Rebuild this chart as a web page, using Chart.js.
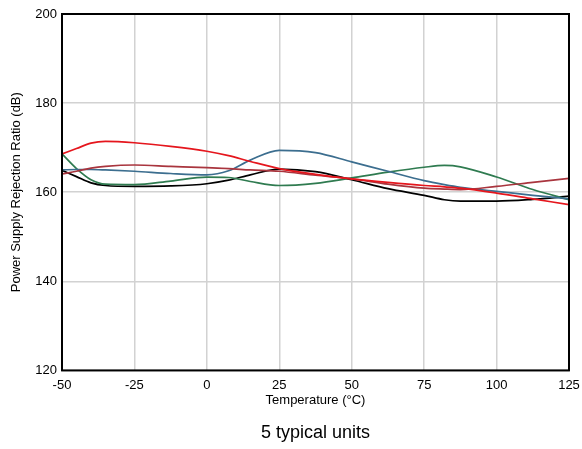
<!DOCTYPE html>
<html>
<head>
<meta charset="utf-8">
<script src="https://cdn.jsdelivr.net/npm/chart.js@4"></script>
<style>
  html, body { margin: 0; padding: 0; background: #fff; }
  #wrap { width: 582px; height: 449px; }
</style>
</head>
<body>
<div id="wrap"><canvas id="psrrChart" width="582" height="449"></canvas></div>
<script>
/* =========================
   Data
========================= */

const temps = [-50, -45, -40, -35, -25, -12.5, 0, 7.5, 15, 25, 37.5, 50, 62.5, 75, 82, 87.5, 100, 112.5, 125];

const unitRed      = [168.6, 169.8, 171.0, 171.4, 171.1, 170.3, 169.2, 168.2, 166.9, 165.3, 164.0, 163.0, 162.2, 161.5, 161.2, 160.9, 159.8, 158.5, 157.2];
const unitDarkRed  = [164.1, 164.7, 165.4, 165.8, 166.1, 165.8, 165.5, 165.3, 165.0, 164.7, 163.8, 163.0, 161.8, 160.9, 160.7, 160.6, 161.3, 162.2, 163.1];
const unitBlue     = [165.0, 165.1, 165.1, 165.0, 164.7, 164.2, 163.9, 164.8, 167.2, 169.4, 168.9, 166.8, 164.7, 162.6, 161.7, 161.1, 160.2, 159.3, 158.5];
const unitGreen    = [168.6, 165.3, 162.8, 161.8, 161.7, 162.5, 163.4, 163.3, 162.4, 161.5, 162.0, 163.2, 164.5, 165.6, 166.0, 165.7, 163.4, 160.6, 158.3];
const unitBlack    = [164.9, 163.5, 162.1, 161.5, 161.3, 161.4, 161.9, 162.7, 163.9, 165.2, 164.6, 162.8, 160.8, 159.3, 158.3, 158.0, 158.0, 158.4, 159.1];

const xTicks = [-50, -25, 0, 25, 50, 75, 100, 125];
const yTicks = [120, 140, 160, 180, 200];

/* =========================
   Helpers
========================= */

const FONT = "'Liberation Sans', Arial, sans-serif";

function toPoints(values) {
  return temps.map((t, i) => ({ x: t, y: values[i] }));
}

function series(label, values, color) {
  return {
    label: label,
    data: toPoints(values),
    borderColor: color,
    borderWidth: 1.7,
    pointRadius: 0,
    fill: false,
    cubicInterpolationMode: "monotone"
  };
}

// black frame round the plot area
const framePlugin = {
  id: "frame",
  afterDraw(chart) {
    const { ctx, chartArea: a } = chart;
    ctx.save();
    ctx.strokeStyle = "#000";
    ctx.lineWidth = 2;
    ctx.strokeRect(a.left, a.top, a.right - a.left, a.bottom - a.top);
    ctx.restore();
  }
};

/* =========================
   Chart
========================= */

new Chart(document.getElementById("psrrChart"), {
  type: "line",
  data: {
    datasets: [
      series("Unit 1", unitRed, "#e5161d"),
      series("Unit 2", unitDarkRed, "#a9353e"),
      series("Unit 3", unitBlue, "#3c6e8f"),
      series("Unit 4", unitGreen, "#2f7b50"),
      series("Unit 5", unitBlack, "#000000")
    ]
  },
  options: {
    responsive: false,
    animation: false,
    layout: { padding: { top: 14, right: 13, left: 0, bottom: 0 } },
    scales: {
      x: {
        type: "linear",
        min: -50,
        max: 125,
        afterBuildTicks: scale => { scale.ticks = xTicks.map(v => ({ value: v })); },
        afterFit: scale => {
          scale.height = 52;
          scale.paddingLeft = 0;
          scale.paddingRight = 0;
        },
        grid: { color: "#d2d2d2", lineWidth: 1.5, drawTicks: false },
        border: { display: false },
        ticks: { color: "#000", padding: 7, maxRotation: 0, font: { family: FONT, size: 13 } },
        title: {
          display: true,
          text: "Temperature (°C)",
          color: "#000",
          font: { family: FONT, size: 13 },
          padding: { top: 0, bottom: 14 }
        }
      },
      y: {
        min: 120,
        max: 200,
        afterBuildTicks: scale => { scale.ticks = yTicks.map(v => ({ value: v })); },
        afterFit: scale => { scale.width = 62; },
        grid: { color: "#d2d2d2", lineWidth: 1.5, drawTicks: false },
        border: { display: false },
        ticks: { color: "#000", padding: 5, font: { family: FONT, size: 13 } },
        title: {
          display: true,
          text: "Power Supply Rejection Ratio (dB)",
          color: "#000",
          font: { family: FONT, size: 13 },
          padding: { top: 9, bottom: 0 }
        }
      }
    },
    plugins: {
      legend: { display: false },
      tooltip: { enabled: false },
      title: {
        display: true,
        position: "bottom",
        fullSize: false,
        text: "5 typical units",
        color: "#000",
        font: { family: FONT, size: 18, weight: "normal" },
        padding: { top: 0, bottom: 5 }
      }
    }
  },
  plugins: [framePlugin]
});
</script>
</body>
</html>
